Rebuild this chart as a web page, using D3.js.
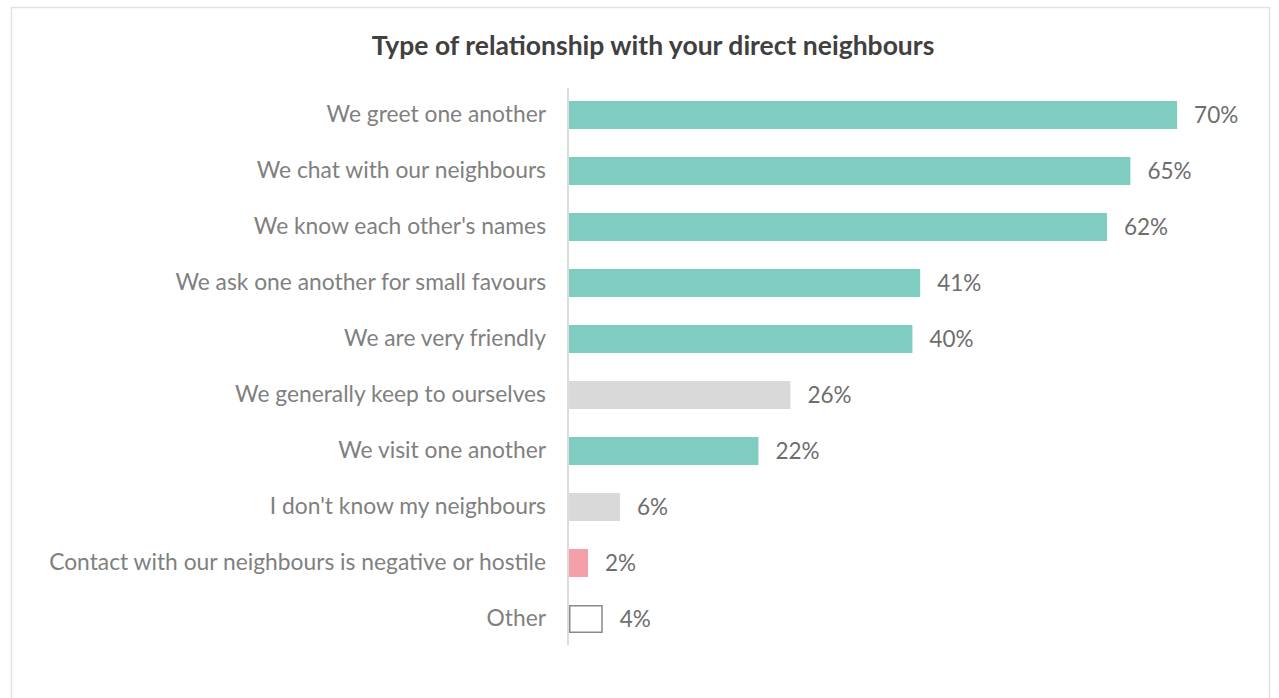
<!DOCTYPE html>
<html>
<head>
<meta charset="utf-8">
<script src="https://cdn.jsdelivr.net/npm/d3@7"></script>
<style>
  body { margin: 0; background: #fff; }
  text { font-family: Lato, "Noto Sans", sans-serif; }
</style>
</head>
<body>
<div id="chart"></div>
<script>
// data
var categories = [
  "We greet one another",
  "We chat with our neighbours",
  "We know each other's names",
  "We ask one another for small favours",
  "We are very friendly",
  "We generally keep to ourselves",
  "We visit one another",
  "I don't know my neighbours",
  "Contact with our neighbours is negative or hostile",
  "Other"
];
var values = [70.3, 64.9, 62.2, 40.6, 39.7, 25.6, 21.9, 5.9, 2.2, 3.9];
var kinds = ["pos", "pos", "pos", "pos", "pos", "neutral", "pos", "neutral", "neg", "other"];

var colors = {pos: "#7ecdc0", neutral: "#d9d9d9", neg: "#f4a0a8", other: "#ffffff"};

var width = 1279, height = 698;
var margin = {top: 87, left: 569, bottom: 53};

var svg = d3.select("#chart")
    .append("svg")
        .attr("width", width)
        .attr("height", height);

// frame
svg.append("rect")
    .attr("x", 11.5).attr("y", 7.5)
    .attr("width", 1258).attr("height", 720)
    .attr("fill", "none")
    .attr("stroke", "#e2e2e2")
    .attr("stroke-width", 1.5);

svg.append("text")
    .attr("x", 653).attr("y", 45)
    .attr("text-anchor", "middle")
    .attr("dominant-baseline", "central")
    .style("font-size", "26.5px")
    .style("font-weight", "bold")
    .style("fill", "#404040")
    .text("Type of relationship with your direct neighbours");

var y = d3.scaleBand()
    .domain(categories)
    .range([margin.top, margin.top + 56 * categories.length])
    .paddingInner(0.5)
    .paddingOuter(0.25);

var x = d3.scaleLinear()
    .domain([0, 100])
    .range([margin.left, margin.left + 865]);

var g = svg.append("g");

var rows = categories.map(function (c, i) { return {cat: c, val: values[i], kind: kinds[i]}; });

g.selectAll("rect.bar")
    .data(rows)
    .enter()
    .append("rect")
        .attr("class", "bar")
        .attr("x", function (d) { return x(0) + (d.kind == "other" ? 0.75 : 0); })
        .attr("y", function (d) { return y(d.cat) + (d.kind == "other" ? 0.75 : 0); })
        .attr("width", function (d) { return x(d.val) - x(0) - (d.kind == "other" ? 1.5 : 0); })
        .attr("height", function (d) { return y.bandwidth() - (d.kind == "other" ? 1.5 : 0); })
        .attr("fill", function (d) { return colors[d.kind]; })
        .attr("stroke", function (d) { return d.kind == "other" ? "#8a8a8a" : "none"; })
        .attr("stroke-width", 1.5);

// category axis
var axis = svg.append("g")
    .attr("transform", "translate(" + (x(0) - 1) + ",0)")
    .call(d3.axisLeft(y).tickSize(0).tickPadding(22));
axis.select(".domain")
    .attr("d", "M0," + (margin.top + 1) + "V" + (height - margin.bottom))
    .attr("stroke", "#dcdcdc")
    .attr("stroke-width", 2);
axis.selectAll("text")
    .style("font-family", "Lato, sans-serif")
    .style("font-size", "22.8px")
    .style("fill", "#808080");

// value labels
g.selectAll("text.val")
    .data(rows)
    .enter()
    .append("text")
        .attr("class", "val")
        .attr("x", function (d) { return x(d.val) + 17; })
        .attr("y", function (d) { return y(d.cat) + y.bandwidth() / 2; })
        .attr("dy", "0.35em")
        .style("font-size", "22.5px")
        .style("fill", "#6e6e6e")
        .text(function (d) { return Math.round(d.val) + "%"; });
</script>
</body>
</html>
